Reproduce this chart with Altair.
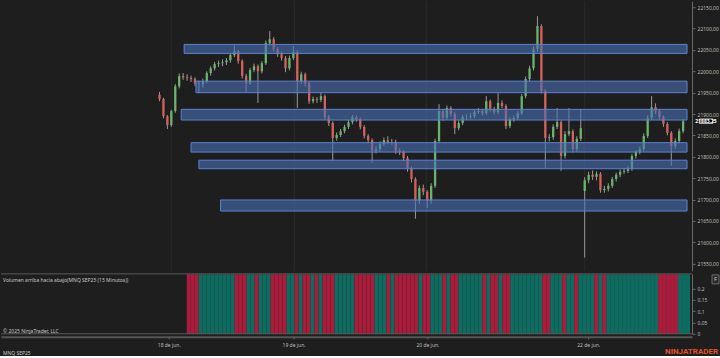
import altair as alt
import pandas as pd

# ---------------- data ----------------
closes = [
    21935, 21895, 21874, 21907, 21965, 21989, 21986, 21984, 21982, 21972,
    21970, 21977, 21996, 22007, 22017, 22019, 22021, 22026, 22038, 22047,
    22024, 21989, 21972, 22003, 22012, 22000, 22019, 22066, 22075, 22052,
    22040, 22031, 22007, 22031, 22045, 21977, 21993, 21972, 21930, 21935,
    21933, 21942, 21893, 21879, 21844, 21851, 21860, 21870, 21881, 21893,
    21888, 21870, 21849, 21839, 21814, 21818, 21830, 21839, 21835, 21835,
    21814, 21811, 21797, 21772, 21748, 21697, 21727, 21718, 21697, 21732,
    21837, 21907, 21891, 21914, 21900, 21867, 21879, 21893, 21893, 21895,
    21905, 21907, 21902, 21930, 21912, 21905, 21926, 21919, 21872, 21888,
    21891, 21902, 21942, 21982, 22007, 22052, 22106, 21954, 21844, 21846,
    21870, 21881, 21802, 21853, 21860, 21818, 21842, 21867, 21745, 21758,
    21753, 21760, 21722, 21725, 21732, 21748, 21758, 21765, 21767, 21772,
    21802, 21811, 21818, 21849, 21891, 21916, 21907, 21893, 21877, 21856,
    21825, 21837, 21860, 21883.25,
]
highs = [
    21952, 21938, 21898, 21910, 21970, 21995, 21996, 21993, 21990, 21986,
    21978, 21983, 22000, 22012, 22022, 22025, 22028, 22031, 22043, 22061,
    22050, 22028, 21994, 22008, 22018, 22016, 22024, 22072, 22094, 22080,
    22057, 22046, 22036, 22037, 22059, 22049, 21999, 21997, 21976, 21941,
    21940, 21950, 21946, 21898, 21883, 21857, 21865, 21875, 21886, 21898,
    21897, 21892, 21874, 21853, 21843, 21825, 21836, 21845, 21848, 21842,
    21840, 21820, 21815, 21802, 21777, 21752, 21733, 21735, 21722, 21738,
    21842, 21923, 21912, 21920, 21918, 21904, 21885, 21898, 21900, 21902,
    21910, 21914, 21912, 21942, 21934, 21917, 21949, 21932, 21923, 21893,
    21897, 21907, 21947, 21988, 22013, 22058, 22129, 22110, 21958, 21853,
    21876, 21914, 21885, 21860, 21914, 21864, 21848, 21912, 21752, 21765,
    21768, 21766, 21764, 21732, 21738, 21753, 21763, 21770, 21773, 21778,
    21807, 21816, 21824, 21855, 21897, 21942, 21925, 21912, 21897, 21881,
    21860, 21843, 21866, 21889,
]
lows = [
    21930, 21890, 21865, 21870, 21903, 21960, 21980, 21978, 21975, 21966,
    21949, 21962, 21972, 21990, 22002, 22010, 22012, 22015, 22020, 22033,
    22018, 21983, 21951, 21968, 21998, 21926, 21995, 22015, 22060, 22046,
    22034, 22025, 21998, 22002, 22026, 21914, 21970, 21965, 21924, 21925,
    21926, 21928, 21887, 21872, 21790, 21838, 21846, 21855, 21865, 21876,
    21882, 21864, 21843, 21832, 21786, 21808, 21812, 21825, 21829, 21828,
    21807, 21804, 21790, 21765, 21740, 21655, 21690, 21710, 21680, 21690,
    21727, 21832, 21884, 21886, 21894, 21853, 21862, 21874, 21886, 21888,
    21890, 21900, 21896, 21898, 21906, 21899, 21900, 21913, 21865, 21867,
    21882, 21886, 21898, 21937, 21977, 22002, 22046, 21948, 21774, 21836,
    21840, 21865, 21767, 21796, 21848, 21810, 21812, 21837, 21564, 21738,
    21746, 21745, 21716, 21716, 21719, 21727, 21742, 21752, 21760, 21762,
    21767, 21796, 21806, 21813, 21844, 21886, 21900, 21887, 21870, 21850,
    21779, 21819, 21831, 21855,
]
first_open = 21945
gap_bar = 108          # first bar after the weekend
gap_open = 21720

zone_top = [22063, 21977, 21911, 21833, 21792, 21699]
zone_bottom = [22042, 21950, 21886, 21811, 21772, 21673]
zone_start = [6.25, 9.25, 5.5, 8, 10, 15.5]

price_ticks = list(range(21550, 22151, 50))
vol_ticks = [0, 0.05, 0.1, 0.15, 0.2]
date_pos = [3, 34.25, 67.75, 108]
date_labels = ["18 de jun.", "19 de jun.", "20 de jun.", "22 de jun."]
last_price = 21883.25
vol_first_bar = 8

X_DOMAIN = [-39, 134]
Y_DOMAIN = [21533, 22164]
V_DOMAIN = [0, 0.264]

BG = "#1e1e1e"
UP = "#6ab46c"
DOWN = "#d5625a"
VUP = "#0f6b60"
VDOWN = "#a81c3c"
FONT = "Noto Sans"

# ---------------- tables ----------------
opens = [first_open] + closes[:-1]
opens[gap_bar] = gap_open
n = len(closes)
df = pd.DataFrame({
    "k": list(range(n)),
    "open": opens, "close": closes, "high": highs, "low": lows,
})
df["dir"] = ["up" if c >= o else "down" for o, c in zip(opens, closes)]

zones = pd.DataFrame({
    "x0": zone_start, "x1": [X_DOMAIN[1]] * len(zone_start),
    "top": zone_top, "bottom": zone_bottom,
})

vol = df[df["k"] >= vol_first_bar].copy()
vol["x0"] = vol["k"] - 0.5
vol["x1"] = vol["k"] + 0.5
vol["v0"] = 0
vol["v1"] = 0.262
vol["vdir"] = ["vup" if d == "up" else "vdown" for d in vol["dir"]]

grid = pd.DataFrame({"k": date_pos})

xs = alt.Scale(domain=X_DOMAIN, nice=False, zero=False)
ys = alt.Scale(domain=Y_DOMAIN, nice=False, zero=False)
vs = alt.Scale(domain=V_DOMAIN, nice=False, zero=False)

# ---------------- main price panel ----------------
base = alt.Chart(df)
y_axis = alt.Axis(
    orient="right", values=price_ticks, title=None, grid=False, labelOverlap=False,
    labelExpr="replace(format(datum.value, '.2f'), '.', ',')",
    domainColor="#6a6a6a", tickColor="#6a6a6a", tickSize=3,
    labelColor="#bdbdbd", labelFontSize=5, labelFont=FONT, labelPadding=2,
)

vgrid = alt.Chart(grid).mark_rule(color="#2a2a2a", strokeWidth=1).encode(
    x=alt.X("k:Q", scale=xs, axis=None)
)
wicks = base.mark_rule(color="#9a9a9a", strokeWidth=1).encode(
    x=alt.X("k:Q", scale=xs, axis=None),
    y=alt.Y("low:Q", scale=ys, axis=y_axis),
    y2="high:Q",
)
bodies = base.mark_bar(size=2.3).encode(
    x=alt.X("k:Q", scale=xs, axis=None),
    y=alt.Y("open:Q", scale=ys, axis=y_axis),
    y2="close:Q",
    color=alt.Color("dir:N", scale=alt.Scale(domain=["up", "down"], range=[UP, DOWN]), legend=None),
)
zone_rects = alt.Chart(zones).mark_rect(
    fill="#4a70b5", fillOpacity=0.6, stroke="#5a84d2", strokeWidth=1
).encode(
    x=alt.X("x0:Q", scale=xs, axis=None), x2="x1:Q",
    y=alt.Y("top:Q", scale=ys, axis=y_axis), y2="bottom:Q",
)
tag_df = pd.DataFrame({"p": [last_price], "t": ["21883,25"]})
tag_box = alt.Chart(tag_df).mark_point(
    shape="M-1.35,-0.45L1.35,-0.45L1.35,0.45L-1.35,0.45Z",
    filled=True, fill="#050505", stroke="#e0e0e0", strokeWidth=0.8, opacity=1, size=100,
).encode(x=alt.value(706), y=alt.Y("p:Q", scale=ys, axis=y_axis))
tag_txt = alt.Chart(tag_df).mark_text(
    color="#ffffff", fontSize=5, font=FONT, fontWeight="bold", align="center", baseline="middle"
).encode(x=alt.value(706), y=alt.Y("p:Q", scale=ys, axis=y_axis), text="t:N")

main = alt.layer(vgrid, wicks, bodies, zone_rects, tag_box, tag_txt).properties(width=692, height=270)

# ---------------- volume panel ----------------
label_expr = " : ".join(
    f"datum.value == {p} ? '{l}'" for p, l in zip(date_pos, date_labels)
) + " : ''"
x_axis = alt.Axis(
    orient="bottom", values=date_pos, labelExpr=label_expr, title=None, grid=False,
    domainColor="#555555", domainWidth=2, tickColor="#777777", tickSize=2,
    labelColor="#bdbdbd", labelFontSize=5, labelFont=FONT, labelPadding=4, offset=3,
    labelOverlap=False,
)
v_axis = alt.Axis(
    orient="right", values=vol_ticks, title=None, grid=False, labelOverlap=False,
    labelExpr="replace(format(datum.value, '~g'), '.', ',')",
    domainColor="#6a6a6a", tickColor="#6a6a6a", tickSize=3,
    labelColor="#bdbdbd", labelFontSize=5, labelFont=FONT, labelPadding=2,
)
vbars = alt.Chart(vol).mark_rect().encode(
    x=alt.X("x0:Q", scale=xs, axis=x_axis), x2="x1:Q",
    y=alt.Y("v0:Q", scale=vs, axis=v_axis), y2="v1:Q",
    color=alt.Color("vdir:N", scale=alt.Scale(domain=["vup", "vdown"], range=[VUP, VDOWN]), legend=None),
)
one = pd.DataFrame({"a": [0]})
borders = alt.Chart(pd.DataFrame({"yy": [0, 60]})).mark_rule(color="#5a5a5a", strokeWidth=1).encode(
    x=alt.value(0), x2=alt.value(692), y=alt.Y("yy:Q", scale=None)
)


def label(text, x, y, size=5, color="#c8c8c8", align="left", weight="normal", font=FONT):
    return alt.Chart(one).mark_text(
        text=text, fontSize=size, color=color, align=align, baseline="middle",
        fontWeight=weight, font=font,
    ).encode(x=alt.value(x), y=alt.value(y))


fbox = alt.Chart(one).mark_rect(fill="#2a2a2a", stroke="#8a8a8a", strokeWidth=0.7).encode(
    x=alt.value(712), x2=alt.value(719), y=alt.value(1), y2=alt.value(10)
)
vol_chart = alt.layer(
    vbars, borders, fbox,
    label("F", 715.5, 5.5, size=6, color="#cccccc", align="center"),
    label("Volumen arriba hacia abajo(MNQ SEP25 (15 Minutos))", 2, 6),
    label("© 2025 NinjaTrader, LLC", 2, 57),
    label("MNQ SEP25", 2, 79),
    label("NINJATRADER", 718, 78, size=8, color="#e4512c", align="right", weight="bold", font="Roboto"),
).properties(width=692, height=60)

chart = alt.vconcat(main, vol_chart, spacing=1).resolve_scale(color="independent").properties(
    background=BG, padding=0
).configure_view(stroke=None).configure_axis(labelOverlap=False)

chart.save("out.html", embed_options={"renderer": "svg", "actions": False})
